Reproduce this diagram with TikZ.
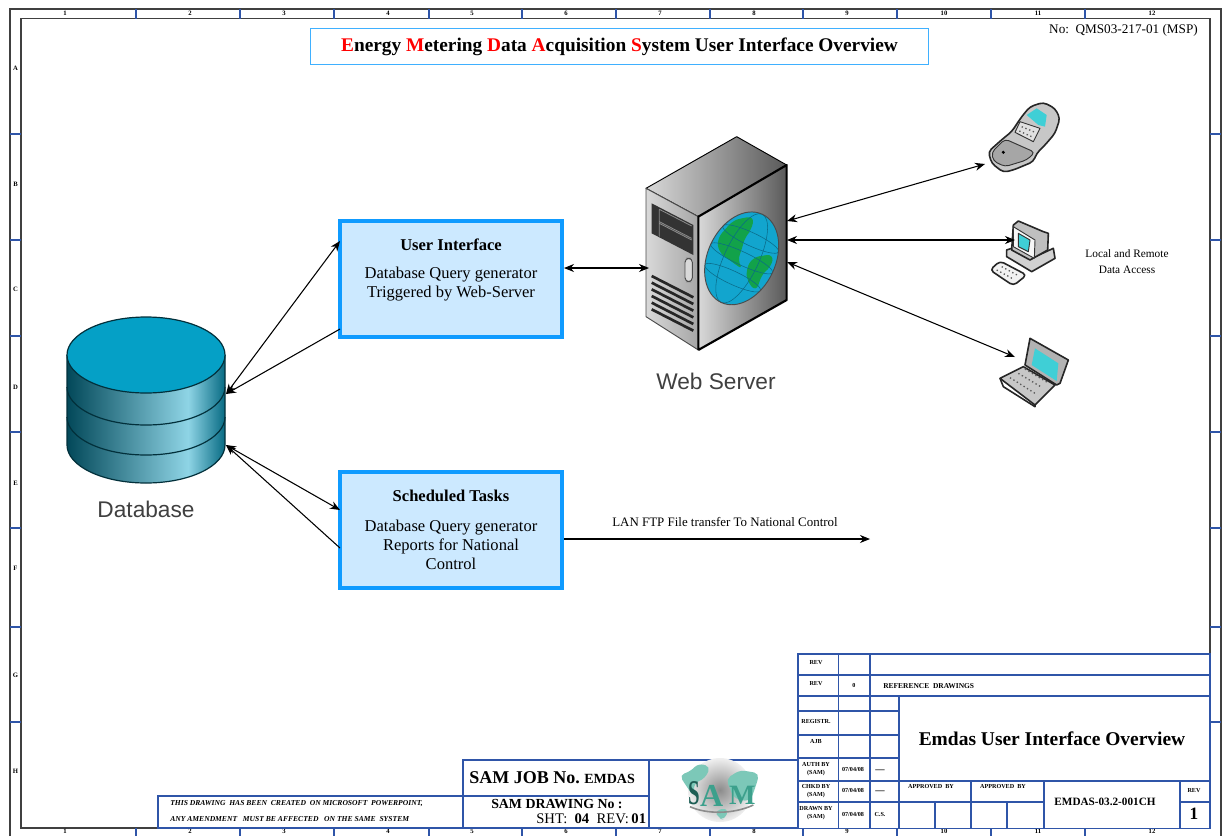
\documentclass[tikz,border=0pt]{standalone}
\usepackage{fontspec}
\setmainfont{Liberation Serif}
\newfontfamily\arialf{Liberation Sans}
\usetikzlibrary{arrows.meta}
\definecolor{frameblue}{HTML}{2F55A8}
\definecolor{boxedge}{HTML}{0F9BFF}
\definecolor{boxfill}{HTML}{CCE9FF}
\definecolor{titleedge}{HTML}{3FB0FF}
\definecolor{cyanscr}{HTML}{3FCFD6}
\definecolor{globeblue}{HTML}{12A5CE}
\definecolor{globegreen}{HTML}{12A24A}
\definecolor{globeline}{HTML}{0A6A88}
\definecolor{dbtop}{HTML}{05A0C6}
\definecolor{logoteal}{HTML}{7CC8B8}
\definecolor{logomid}{HTML}{3CA08C}
\definecolor{logodark}{HTML}{1E5E55}
\newcommand{\fsz}[2]{\fontsize{#1}{#2}\selectfont}
\tikzset{
  gridl/.style={draw=frameblue,line width=0.9pt},
  fr/.style={draw=black!75,line width=1pt},
  tk/.style={font=\bfseries\fsz{5}{6},inner sep=0pt},
  tinyt/.style={font=\bfseries\fsz{4.6}{6},inner sep=0pt,align=center},
  conn/.style={line width=0.8pt,-{Stealth[length=7.5pt,width=6pt]}},
  conn2/.style={line width=0.8pt,{Stealth[length=7.5pt,width=6pt]}-{Stealth[length=7.5pt,width=6pt]}},
  mainbox/.style={draw=boxedge,fill=boxfill,line width=3pt,minimum width=166.5pt,minimum height=87pt,inner sep=0pt,align=center},
  outl/.style={draw=black!85,line width=1.2pt,line join=round},
  thinl/.style={draw=black!80,line width=0.7pt,line join=round},
  keys/.style={black!65,line width=1pt,dotted},
  globegrid/.style={draw=globeline,line width=0.4pt},
  lbl/.style={inner sep=0pt,align=center}
}
\begin{document}
\begin{tikzpicture}[x=0.75pt,y=-0.75pt]
\useasboundingbox (0,0) rectangle (1224,836);
\fill[white] (0,0) rectangle (1224,836);

% frame
\draw[fr] (10,836) -- (10,9) -- (1221,9) -- (1221,836);
\draw[fr] (21,18.5) rectangle (1210,828);
\foreach \x in {136,240,334,429,522,616,710,803,897,991,1085}{
  \draw[gridl] (\x,9) -- (\x,18.5);
  \draw[gridl] (\x,828) -- (\x,836);
}
\foreach \y in {134,240,336,432,528,627,722}{
  \draw[gridl] (10,\y) -- (21,\y);
  \draw[gridl] (1210,\y) -- (1221,\y);
}
\foreach \n/\x in {1/65,2/190,3/284,4/388,5/472,6/566,7/660,8/754,9/847,10/944,11/1038,12/1152}{
  \node[tk] (t\n) at (\x,13.5) {\n};
  \node[tk] (b\n) at (\x,831.5) {\n};
}
\foreach \n/\y in {A/68,B/184,C/289,D/387,E/483,F/568,G/675,H/771}{
  \node[tk] (l\n) at (15.5,\y) {\n};
}

% heading
\node[draw=titleedge,line width=0.9pt,minimum width=463pt,minimum height=27pt,inner sep=0pt,font=\bfseries\fsz{14.5}{16}] (head) at (619.5,46.5)
 {\textcolor{red}{E}nergy \textcolor{red}{M}etering \textcolor{red}{D}ata \textcolor{red}{A}cquisition \textcolor{red}{S}ystem User Interface Overview};
\node[lbl,anchor=east,font=\fsz{9.9}{12}] (docno) at (1198,30.5) {No:\ \ QMS03-217-01 (MSP)};

% database
\begin{scope}
\clip (67,355) -- (67,445) arc[start angle=180,end angle=0,x radius=79,y radius=38] -- (225,355) -- cycle;
\shade[left color=dbtop!45!black,right color=dbtop!45!white] (67,340) rectangle (188,490);
\shade[left color=dbtop!45!white,right color=dbtop!65!black] (188,340) rectangle (226,490);
\end{scope}
\draw[draw=black!70!dbtop,line width=0.9pt] (67,355) -- (67,445) arc[start angle=180,end angle=0,x radius=79,y radius=38] -- (225,355);
\draw[draw=black!70!dbtop,line width=0.9pt] (67,387) arc[start angle=180,end angle=0,x radius=79,y radius=38];
\draw[draw=black!70!dbtop,line width=0.9pt] (67,417) arc[start angle=180,end angle=0,x radius=79,y radius=38];
\draw[draw=black!70!dbtop,line width=0.9pt,fill=dbtop] (146,355) ellipse[x radius=79,y radius=38];
\node[lbl,text=black!75,font=\arialf\fsz{17}{20}] (dblabel) at (146,509) {Database};
\coordinate (dbA) at (226,394);
\coordinate (dbB) at (226,445);

% boxes
\node[mainbox] (ui) at (451,279) {};
\node[lbl,font=\bfseries\fsz{12.4}{14}] (uit) at (451,245) {User Interface};
\node[lbl,font=\fsz{12.4}{14.2}] (uib) at (451,284.5) {Database Query generator\\Triggered by Web-Server};
\node[mainbox] (st) at (451,530) {};
\node[lbl,font=\bfseries\fsz{12.4}{14}] (stt) at (451,496) {Scheduled Tasks};
\node[lbl,font=\fsz{12.4}{14.2}] (stb) at (451,544.5) {Database Query generator\\Reports for National\\Control};

% web server (traced in 3x coordinates of a crop)
\begin{scope}[shift={(630,90)},x=0.25pt,y=-0.25pt]
 \shade[left color=black!15,right color=black!65,draw=black,line width=0.7pt,line join=round] (48,295) -- (320,140) -- (470,225) -- (205,380) -- cycle;
 \shade[left color=black!15,right color=black!35,draw=black!70,line width=0.7pt,line join=round] (48,295) -- (205,380) -- (205,780) -- (48,680) -- cycle;
 \shade[left color=black!15,right color=black!65] (205,380) -- (470,225) -- (470,630) -- (205,780) -- cycle;
 \draw[line width=1.6pt,line join=round] (205,780) -- (205,380) -- (470,225) -- (470,630) -- (205,780);
 \fill[black!80] (65,340) -- (190,405) -- (190,495) -- (65,430) -- cycle;
 \draw[black!45,line width=0.6pt] (88,358) -- (185,408) (88,395) -- (185,445) (88,358) -- (88,440) (88,400) -- (185,450);
 \foreach \d in {0,20,...,100}{
  \draw[black!85,line width=2pt] (65,{558+\d}) -- (190,{622+\d});
 }
 \draw[black!70,fill=black!15,line width=0.7pt,rounded corners=3pt] (165,505) rectangle (187,575);
 \begin{scope}
  \clip[shift={(335,505)},rotate=65] (0,0) ellipse[x radius=36.5pt,y radius=25.5pt];
  \fill[globeblue] (200,350) rectangle (460,660);
  \fill[globegreen,rounded corners=5pt] (262,445) -- (310,390) -- (372,378) -- (365,420) -- (345,440) -- (335,480) -- (322,512) -- (340,540) -- (298,510) -- (265,485) -- cycle;
  \fill[globegreen,rounded corners=5pt] (348,538) -- (368,502) -- (430,492) -- (425,530) -- (398,548) -- (378,605) -- (352,575) -- cycle;
  \begin{scope}[shift={(335,505)},rotate=65]
   \draw[globegrid] (0,0) ellipse[x radius=36.5pt,y radius=13pt];
   \draw[globegrid] (0,0) ellipse[x radius=5pt,y radius=25.5pt];
   \draw[globegrid] (16pt,0) ellipse[x radius=5pt,y radius=23pt];
   \draw[globegrid] (-16pt,0) ellipse[x radius=5pt,y radius=23pt];
  \end{scope}
 \end{scope}
 \draw[black!70,line width=0.7pt,shift={(335,505)},rotate=65] (0,0) ellipse[x radius=36.5pt,y radius=25.5pt];
\end{scope}

% phone
\begin{scope}[shift={(980,95)},x=0.25pt,y=-0.25pt]
 \draw[outl,fill=black!22,rounded corners=3pt] (125,65) -- (150,35) -- (190,22) -- (225,40) -- (240,70) -- (225,115) -- (195,150) -- (170,175) -- (160,200) -- (100,225) -- (70,232) -- (35,205) -- (25,170) -- (70,130) -- (95,110) -- cycle;
 \draw[thinl,fill=black!12] (120,80) -- (180,100) -- (160,140) -- (105,112) -- cycle;
 \draw[keys] (125,95) -- (165,112) (118,108) -- (155,125);
 \fill[cyanscr] (140,60) -- (170,40) -- (200,60) -- (195,95) -- (175,90) -- cycle;
 \draw[thinl,fill=black!35,rounded corners=3pt] (35,172) -- (75,132) -- (165,172) -- (140,195) -- (75,215) -- (40,198) -- cycle;
 \fill[black] (70,172) circle[radius=1.3pt];
\end{scope}

% desktop and laptop
\begin{scope}[shift={(985,215)},x=0.25pt,y=-0.25pt]
 \draw[outl,fill=black!18] (65,105) -- (80,100) -- (140,130) -- (205,100) -- (210,130) -- (140,170) -- (65,125) -- cycle;
 \draw[outl,fill=black!25] (85,30) -- (100,18) -- (175,50) -- (190,55) -- (188,105) -- (135,135) -- (80,105) -- cycle;
 \draw[thinl,fill=black!3] (85,35) -- (150,75) -- (148,130) -- (85,95) -- cycle;
 \draw[thinl,fill=cyanscr] (100,55) -- (135,75) -- (130,110) -- (100,95) -- cycle;
 \draw[outl,fill=black!5,rounded corners=3pt] (15,165) -- (45,138) -- (125,180) -- (85,212) -- cycle;
 \draw[keys] (35,165) -- (85,192) (50,155) -- (100,182);
 \draw[outl,fill=black!22] (45,490) -- (115,455) -- (210,510) -- (150,570) -- cycle;
 \draw[outl] (45,490) -- (55,515) -- (150,575) -- (150,570);
 \draw[keys] (75,488) -- (150,535) (100,475) -- (172,518) (120,462) -- (192,505);
 \draw[outl,fill=black!30] (135,370) -- (250,435) -- (225,505) -- (215,510) -- (120,450) -- cycle;
 \fill[cyanscr] (150,400) -- (220,445) -- (215,498) -- (140,450) -- cycle;
\end{scope}

\node[lbl,text=black!75,font=\arialf\fsz{17}{20}] (wslabel) at (716,381) {Web Server};
\coordinate (wsW) at (649,268);
\coordinate (wsA) at (787,221);
\coordinate (wsB) at (787,240);
\coordinate (wsC) at (787,262);
\coordinate (phone) at (985,164);
\coordinate (pc) at (1015,240);
\coordinate (laptop) at (1015,357);
\coordinate (lanend) at (870,539);
\coordinate (uiW1) at (340,241);
\coordinate (uiW2) at (340,329);
\coordinate (uiE) at (564,268);
\coordinate (stW1) at (340,510);
\coordinate (stW2) at (340,548);
\coordinate (stE) at (564,539);
\node[lbl,font=\fsz{8.5}{11.5}] (access) at (1127,261.5) {Local and Remote\\Data Access};
\node[lbl,font=\fsz{9.7}{11}] (lan) at (725,522) {LAN FTP File transfer To National Control};

% connectors
\draw[conn2] (dbA) -- (uiW1);
\draw[conn] (uiW2) -- (dbA);
\draw[conn2] (dbB) -- (stW1);
\draw[conn] (stW2) -- (dbB);
\draw[conn2] (uiE) -- (wsW);
\draw[conn2] (wsA) -- (phone);
\draw[conn2] (wsB) -- (pc);
\draw[conn2] (wsC) -- (laptop);
\draw[conn] (stE) -- (lanend);

% title block grid
\draw[gridl,fill=white] (798,654) rectangle (1210,828.5);
\foreach \y in {675,696,781}{\draw[gridl] (798,\y) -- (1210,\y);}
\foreach \y in {711,735,758,802}{\draw[gridl] (798,\y) -- (899,\y);}
\foreach \x in {838.5,870}{\draw[gridl] (\x,654) -- (\x,828.5);}
\draw[gridl] (899,696) -- (899,828.5);
\draw[gridl] (971,781) -- (971,828.5);
\draw[gridl] (1044,781) -- (1044,828.5);
\draw[gridl] (1180,781) -- (1180,828.5);
\draw[gridl] (935,802) -- (935,828.5);
\draw[gridl] (1007,802) -- (1007,828.5);
\draw[gridl] (899,802) -- (1044,802);
\draw[gridl] (1180,802) -- (1210,802);
\node[tinyt] (r1) at (816,663) {REV};
\node[tinyt] (r2) at (816,684) {REV};
\node[tinyt] (r3) at (854,685) {0};
\node[tinyt,anchor=west,font=\bfseries\fsz{5.6}{7}] (refd) at (883,686) {REFERENCE\ \ DRAWINGS};
\node[tinyt] (r4) at (816,722) {REGISTR.};
\node[tinyt] (r5) at (816,741) {AJB};
\node[tinyt] (r6) at (816,769) {AUTH BY\\(SAM)};
\node[tinyt] (r7) at (816,791) {CHKD BY\\(SAM)};
\node[tinyt] (r8) at (816,813.5) {DRAWN BY\\(SAM)};
\node[tinyt] (d1) at (853,769) {07/04/08};
\node[tinyt] (d2) at (853,790) {07/04/08};
\node[tinyt] (d3) at (853,814) {07/04/08};
\node[tinyt,font=\bfseries\fsz{7}{8}] (i1) at (880,771) {---};
\node[tinyt,font=\bfseries\fsz{7}{8}] (i2) at (880,792) {---};
\node[tinyt] (i3) at (880,814) {C.S.};
\node[tinyt] (ap1) at (931,787) {APPROVED\ \ BY};
\node[tinyt] (ap2) at (1003,787) {APPROVED\ \ BY};
\node[tinyt] (r9) at (1194,791) {REV};
\node[lbl,font=\bfseries\fsz{14.6}{16}] (bigt) at (1052,739) {Emdas User Interface Overview};
\node[lbl,font=\bfseries\fsz{8.4}{10}] (emdas) at (1105,802) {EMDAS-03.2-001CH};
\node[lbl,font=\bfseries\fsz{13}{15}] (revn) at (1194,814) {1};

% bottom strip
\draw[gridl,fill=white] (158,796) rectangle (463,828);
\draw[gridl,fill=white] (463,760) rectangle (649,796);
\draw[gridl,fill=white] (463,796) rectangle (649,828);
\draw[gridl,fill=white] (649,760) rectangle (798,828);
\node[lbl,anchor=west,font=\bfseries\itshape\fsz{5.7}{7}] (n1) at (170,804) {THIS DRAWING\ \ HAS BEEN\ \ CREATED\ \ ON MICROSOFT\ \ POWERPOINT,};
\node[lbl,anchor=west,font=\bfseries\itshape\fsz{5.7}{7}] (n2) at (170,819) {ANY AMENDMENT\ \ \ MUST BE AFFECTED\ \ \ ON THE SAME\ \ SYSTEM};
\node[lbl,anchor=west] (job) at (469,778) {\bfseries\fsz{13.5}{16}SAM JOB No.\ {\fsz{10.5}{12}EMDAS}};
\node[lbl,anchor=west,font=\bfseries\fsz{10.4}{13}] (dno) at (491,804) {SAM DRAWING No :};
\node[lbl,anchor=west,font=\fsz{11}{13}] (sht) at (536,819) {SHT:\ \ {\bfseries 04}\ \ REV:\,{\bfseries 01}};

% logo
\begin{scope}[shift={(670,755)},x=0.25pt,y=-0.25pt]
 \shade[inner color=black!45,outer color=black!6] (150,105) circle[radius=24pt];
 \fill[logoteal,rounded corners=4pt] (28,60) -- (60,50) -- (85,25) -- (122,35) -- (105,70) -- (72,85) -- (72,125) -- (50,95) -- cycle;
 \fill[logoteal,rounded corners=4pt] (168,72) -- (210,45) -- (268,55) -- (258,92) -- (240,140) -- (192,130) -- cycle;
 \fill[logoteal,rounded corners=4pt] (135,165) -- (175,160) -- (165,195) -- (145,190) -- cycle;
 \draw[black!45,line width=1.2pt] (60,155) .. controls (110,178) and (190,178) .. (250,150);
 \node[lbl,text=logodark,font=\bfseries\fsz{26}{28},xscale=0.6] (logoS) at (72,115) {S};
 \node[lbl,text=logomid,font=\bfseries\fsz{24}{26}] (logoA) at (125,122) {A};
 \node[lbl,text=logomid,font=\bfseries\fsz{21}{24}] (logoM) at (217,120) {M};
\end{scope}
\end{tikzpicture}
\end{document}
